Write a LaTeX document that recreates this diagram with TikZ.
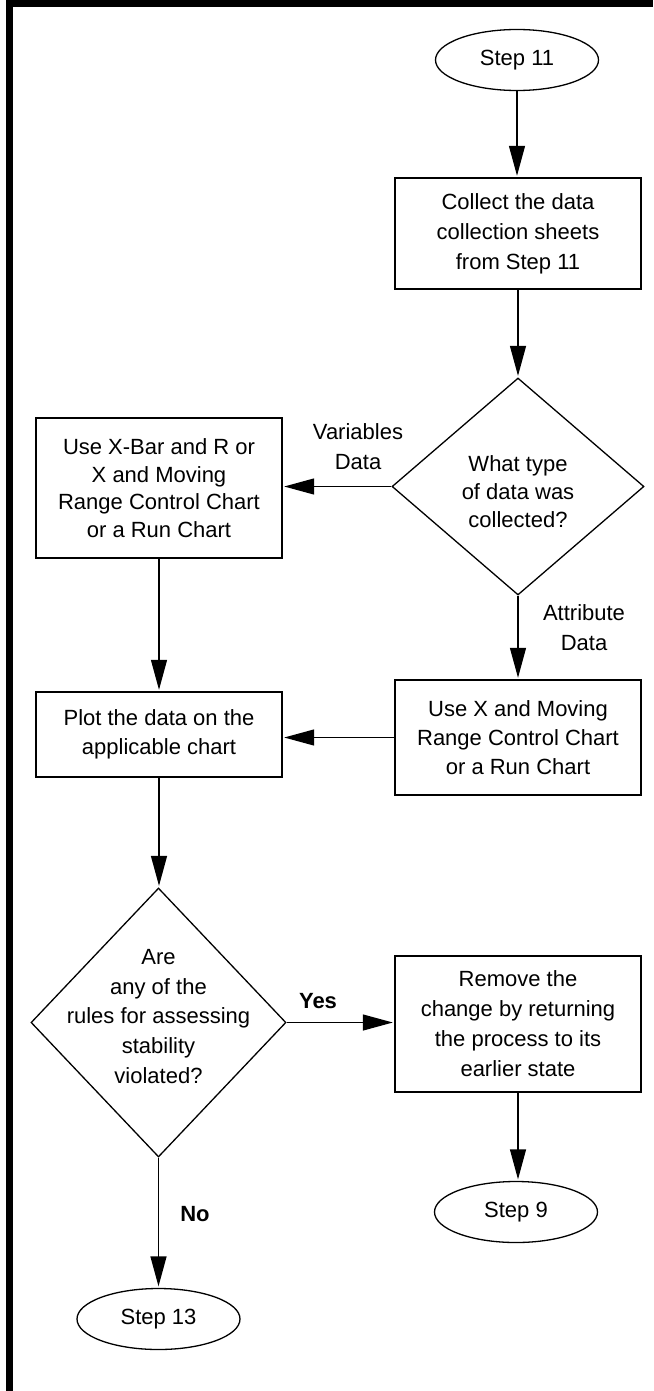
\documentclass[tikz,border=0pt]{standalone}
\usepackage{fontspec}
\setmainfont{Liberation Sans}
\usetikzlibrary{shapes.geometric,arrows.meta}
\begin{document}
\begin{tikzpicture}[x=1pt,y=-1pt,
  line width=1.3pt,
  every node/.style={font=\fontsize{22}{29}\selectfont},
  procbox/.style={draw, rectangle, align=center, inner sep=0pt, line width=1.4pt, minimum width=246pt},
  term/.style={draw, ellipse, inner sep=0pt, minimum width=163pt, minimum height=61pt},
  decis/.style={draw, diamond, inner sep=0pt},
  qtext/.style={align=center},
  lbl/.style={align=center, font=\fontsize{22}{30}\selectfont},
  ynlbl/.style={font=\fontsize{22}{29}\selectfont\bfseries},
  flow/.style={-{Triangle[length=30pt,width=16pt]}, shorten >=1.5pt},
]
\useasboundingbox (0,0) rectangle (653,1391);
\draw[line width=7pt] (9.5,1391) -- (9.5,3.5) -- (653,3.5);

\node[term] (s11) at (517,60) {Step 11};
\node[procbox, minimum height=111pt, font=\fontsize{22}{30}\selectfont] (collect) at (518,233.5) {Collect the data\\collection sheets\\from Step 11};

\node[decis, minimum width=252pt, minimum height=217pt] (dtype) at (518,486.5) {};
\node[qtext, font=\fontsize{22}{28}\selectfont] (dtypetext) at (518,492) {What type\\of data was\\collected?};

\node[procbox, minimum height=140pt, font=\fontsize{22}{27.5}\selectfont] (xbar) at (159,488) {Use X-Bar and R or\\X and Moving\\Range Control Chart\\or a Run Chart};
\node[procbox, minimum height=85pt] (plot) at (159,734.5) {Plot the data on the\\applicable chart};
\node[procbox, minimum height=115pt] (xmr) at (518,737.5) {Use X and Moving\\Range Control Chart\\or a Run Chart};

\node[decis, minimum width=255pt, minimum height=269pt] (stab) at (158.5,1022.5) {};
\node[qtext, font=\fontsize{22}{29.7}\selectfont] (stabtext) at (158.5,1016.5) {Are\\any of the\\rules for assessing\\stability\\violated?};

\node[procbox, minimum height=136pt, font=\fontsize{22}{30}\selectfont] (remove) at (518,1024) {Remove the\\change by returning\\the process to its\\earlier state};

\node[term] (s9) at (516,1212) {Step 9};
\node[term] (s13) at (158.5,1319) {Step 13};

\node[lbl] (varlbl) at (358,446.5) {Variables\\Data};
\node[lbl] (attlbl) at (584,627.5) {Attribute\\Data};
\node[ynlbl] (yeslbl) at (318,1001) {Yes};
\node[ynlbl] (nolbl) at (195,1214.5) {No};

\draw[flow] (s11.south) -- (s11.south |- collect.north);
\draw[flow] (collect.south) -- (collect.south |- dtype.north);
\draw[flow] (dtype.west) -- (dtype.west -| xbar.east);
\draw[flow] (dtype.south) -- (dtype.south |- xmr.north);
\draw[flow] (xbar.south) -- (xbar.south |- plot.north);
\draw[flow] (xmr.west) -- (xmr.west -| plot.east);
\draw[flow] (plot.south) -- (plot.south |- stab.north);
\draw[flow] (stab.east) -- (stab.east -| remove.west);
\draw[flow] (remove.south) -- (remove.south |- s9.north);
\draw[flow] (stab.south) -- (stab.south |- s13.north);
\end{tikzpicture}
\end{document}
